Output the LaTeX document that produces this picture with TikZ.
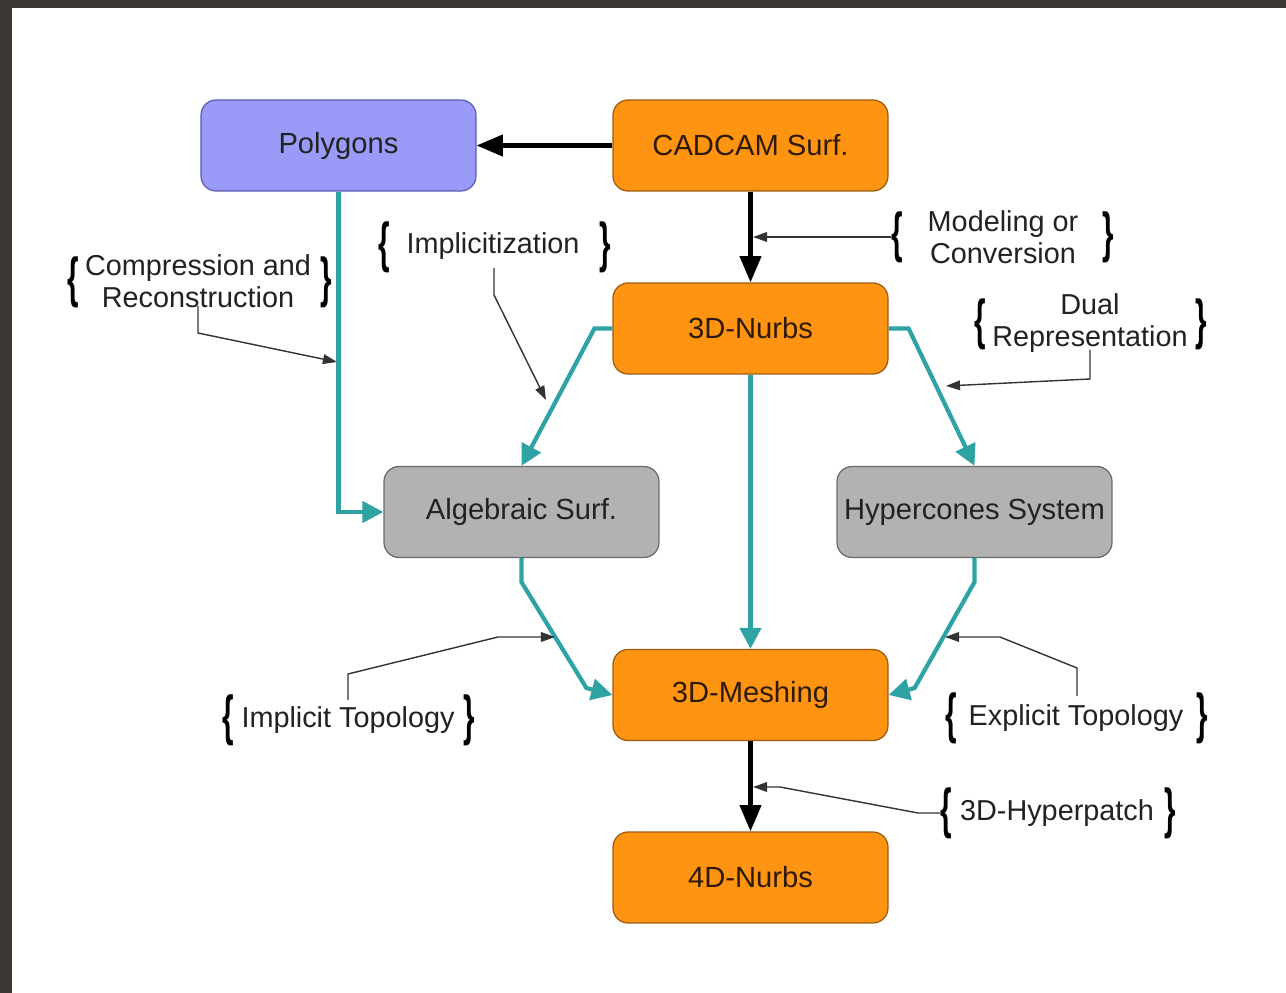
\documentclass[tikz,border=0pt]{standalone}
\usepackage{fontspec}
\setmainfont{Liberation Sans}
\usetikzlibrary{arrows.meta,calc}
\definecolor{frameC}{HTML}{3B3836}
\definecolor{orF}{HTML}{FF9412}
\definecolor{orD}{HTML}{9A5A10}
\definecolor{blF}{HTML}{9A9AF8}
\definecolor{blD}{HTML}{5A5AB0}
\definecolor{grF}{HTML}{B2B2B2}
\definecolor{grD}{HTML}{6A6A6A}
\definecolor{tealC}{HTML}{2FA3A3}
\definecolor{txtC}{HTML}{222222}
\definecolor{boxTxt}{HTML}{2E1A08}
\definecolor{annC}{HTML}{333333}
\newcommand{\lbr}{\scalebox{0.7}[1.3]{\fontsize{24}{24}\selectfont\bfseries\{}}
\newcommand{\rbr}{\scalebox{0.7}[1.3]{\fontsize{24}{24}\selectfont\bfseries\}}}
\begin{document}
\begin{tikzpicture}[x=0.02cm,y=-0.02cm,
  base/.style={rounded corners=0.3cm, minimum width=5.5cm, minimum height=1.82cm,
    line width=0.7pt, inner sep=0pt, text=boxTxt, font=\fontsize{16.6}{19}\selectfont},
  orbox/.style={base, fill=orF, draw=orD},
  blbox/.style={base, fill=blF, draw=blD, text=txtC},
  grbox/.style={base, fill=grF, draw=grD, text=txtC},
  lbl/.style={font=\fontsize{16.4}{18.5}\selectfont, text=txtC, align=center, inner sep=0pt},
  brc/.style={inner sep=0pt, text=black},
  blk/.style={line width=2.4pt, draw=black, -{Triangle[length=15pt,width=12pt]}},
  tl/.style={line width=2.4pt, draw=tealC, -{Triangle[length=12pt,width=12pt]}},
  ann/.style={line width=0.8pt, draw=annC, -{Triangle[length=8pt,width=5.5pt]}}
]
% background and frame
\fill[white] (0,0) rectangle (1286,993);
\fill[frameC] (0,0) rectangle (1286,8);
\fill[frameC] (0,0) rectangle (12,993);
\useasboundingbox (0,0) rectangle (1286,993);

% boxes
\node[blbox] (poly) at (338.5,145.5) {Polygons};
\node[orbox] (cad) at (750.5,145.5) {CADCAM Surf.};
\node[orbox] (n3) at (750.5,328.5) {3D-Nurbs};
\node[grbox] (alg) at (521.5,512) {Algebraic Surf.};
\node[grbox] (hyp) at (974.5,512) {Hypercones System};
\node[orbox] (mesh) at (750.5,695) {3D-Meshing};
\node[orbox] (n4) at (750.5,877.5) {4D-Nurbs};

% black connectors
\draw[blk] (cad.west) -- (poly.east);
\draw[blk] (cad.south) -- (n3.north);
\draw[blk] (mesh.south) -- (n4.north);

% teal connectors
\draw[tl] (poly.south) |- (alg.west);
\draw[tl] (n3.west) -- ++(-18,0) -- (alg.north);
\draw[tl] (n3.east) -- ++(20,0) -- (hyp.north);
\draw[tl] (n3.south) -- (mesh.north);
\draw[tl] (alg.south) -- ++(0,24) -- ($(mesh.west)+(-26,-7)$) -- (mesh.west);
\draw[tl] (hyp.south) -- ++(0,24) -- ($(mesh.east)+(26,-7)$) -- (mesh.east);

% annotation labels
\node[lbl] (compT) at (198,281) {Compression and\\Reconstruction};
\node[brc] (compL) at (73,282) {\lbr};
\node[brc] (compR) at (326,282) {\rbr};

\node[lbl] (implT) at (493,246) {Implicitization};
\node[brc] (implL) at (384,247) {\lbr};
\node[brc] (implR) at (605,247) {\rbr};

\node[lbl] (modT) at (1003,237) {Modeling or\\Conversion};
\node[brc] (modL) at (897,237) {\lbr};
\node[brc] (modR) at (1108,237) {\rbr};

\node[lbl] (dualT) at (1090,323) {Dual\\Representation};
\node[brc] (dualL) at (980,324) {\lbr};
\node[brc] (dualR) at (1201,324) {\rbr};

\node[lbl] (itT) at (348,720) {Implicit Topology};
\node[brc] (itL) at (228,720) {\lbr};
\node[brc] (itR) at (469,720) {\rbr};

\node[lbl] (etT) at (1076,718) {Explicit Topology};
\node[brc] (etL) at (951,718) {\lbr};
\node[brc] (etR) at (1202,718) {\rbr};

\node[lbl] (hpT) at (1057,813) {3D-Hyperpatch};
\node[brc] (hpL) at (946,813) {\lbr};
\node[brc] (hpR) at (1170,813) {\rbr};

% annotation connectors
\coordinate (modTip) at (753,237);
\draw[ann] (modL.west) -- (modTip);

\coordinate (dualS) at (1090,350);
\coordinate (dualB) at (1090,379);
\coordinate (dualTip) at (946,386);
\draw[ann] (dualS) -- (dualB) -- (dualTip);

\coordinate (implS) at (494,268);
\coordinate (implB) at (494,295);
\coordinate (implTip) at (546,400);
\draw[ann] (implS) -- (implB) -- (implTip);

\coordinate (compS) at (198,306);
\coordinate (compB) at (198,333);
\coordinate (compTip) at (337,362);
\draw[ann] (compS) -- (compB) -- (compTip);

\coordinate (itS) at (348,700);
\coordinate (itB1) at (348,674);
\coordinate (itB2) at (498,637);
\coordinate (itTip) at (555,637);
\draw[ann] (itS) -- (itB1) -- (itB2) -- (itTip);

\coordinate (etS) at (1077,696);
\coordinate (etB1) at (1077,668);
\coordinate (etB2) at (1000,637);
\coordinate (etTip) at (945,637);
\draw[ann] (etS) -- (etB1) -- (etB2) -- (etTip);

\coordinate (hpB1) at (918,813);
\coordinate (hpB2) at (780,787);
\coordinate (hpTip) at (753,787);
\draw[ann] (hpL.west) -- (hpB1) -- (hpB2) -- (hpTip);
\end{tikzpicture}
\end{document}
